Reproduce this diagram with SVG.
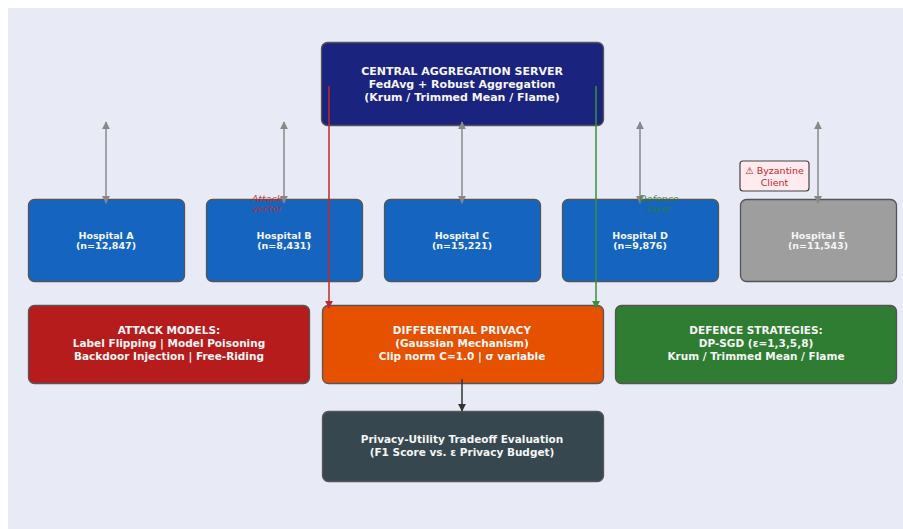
<svg xmlns="http://www.w3.org/2000/svg" width="903" height="529" viewBox="0 0 903 529">
<defs>
<style>
.box{stroke:#555;stroke-width:1.3;}
.t{font-family:"DejaVu Sans",sans-serif;font-weight:bold;fill:#f5f5f5;text-anchor:middle;}
.big{font-size:11px;}
.mid{font-size:10.5px;}
.sm{font-size:9.5px;}
.grey{stroke:#888;stroke-width:1.5;fill:none;}
.note{font-family:"DejaVu Sans",sans-serif;font-style:italic;font-size:9.5px;text-anchor:middle;opacity:0.85;}
</style>
<marker id="ag" viewBox="0 0 10 10" refX="9" refY="5" markerWidth="5.5" markerHeight="5.5" orient="auto-start-reverse"><path d="M0,0 L10,5 L0,10 z" fill="#888"/></marker>
<marker id="ar" viewBox="0 0 10 10" refX="9" refY="5" markerWidth="5.5" markerHeight="5.5" orient="auto"><path d="M0,0 L10,5 L0,10 z" fill="#c62828"/></marker>
<marker id="agr" viewBox="0 0 10 10" refX="9" refY="5" markerWidth="5.5" markerHeight="5.5" orient="auto"><path d="M0,0 L10,5 L0,10 z" fill="#388e3c"/></marker>
<marker id="ak" viewBox="0 0 10 10" refX="9" refY="5" markerWidth="5.5" markerHeight="5.5" orient="auto"><path d="M0,0 L10,5 L0,10 z" fill="#333"/></marker>
</defs>
<rect x="8" y="8" width="895" height="521" fill="#e8eaf6"/>

<g id="server">
<rect class="box" x="321.5" y="42.5" width="282" height="83" rx="6" fill="#1a237e"/>
<text class="t big" x="462" y="74.5">CENTRAL AGGREGATION SERVER</text>
<text class="t big" x="462" y="87.5">FedAvg + Robust Aggregation</text>
<text class="t big" x="462" y="100.5">(Krum / Trimmed Mean / Flame)</text>
</g>

<g id="hospital-a">
<rect class="box" x="28.5" y="199.5" width="156" height="82" rx="6" fill="#1565c0"/>
<text class="t sm" x="106" y="238.5">Hospital A</text>
<text class="t sm" x="106" y="248.5">(n=12,847)</text>
</g>
<g id="hospital-b">
<rect class="box" x="206.5" y="199.5" width="156" height="82" rx="6" fill="#1565c0"/>
<text class="t sm" x="284" y="238.5">Hospital B</text>
<text class="t sm" x="284" y="248.5">(n=8,431)</text>
</g>
<g id="hospital-c">
<rect class="box" x="384.5" y="199.5" width="156" height="82" rx="6" fill="#1565c0"/>
<text class="t sm" x="462" y="238.5">Hospital C</text>
<text class="t sm" x="462" y="248.5">(n=15,221)</text>
</g>
<g id="hospital-d">
<rect class="box" x="562.5" y="199.5" width="156" height="82" rx="6" fill="#1565c0"/>
<text class="t sm" x="640" y="238.5">Hospital D</text>
<text class="t sm" x="640" y="248.5">(n=9,876)</text>
</g>
<g id="hospital-e">
<rect class="box" x="740.5" y="199.5" width="156" height="82" rx="6" fill="#9e9e9e"/>
<text class="t sm" x="818" y="238.5">Hospital E</text>
<text class="t sm" x="818" y="248.5">(n=11,543)</text>
</g>

<g id="byzantine-label">
<rect x="740" y="161" width="69" height="30" rx="3" fill="#ffebee" stroke="#444" stroke-width="1.2"/>
<text x="774.5" y="173.5" font-family="'DejaVu Sans',sans-serif" font-size="9.5" fill="#c62828" text-anchor="middle">⚠ Byzantine</text>
<text x="774.5" y="185.5" font-family="'DejaVu Sans',sans-serif" font-size="9.5" fill="#c62828" text-anchor="middle">Client</text>
</g>

<g id="attack-models">
<rect class="box" x="28.5" y="305.5" width="281" height="78" rx="6" fill="#b71c1c"/>
<text class="t mid" x="169" y="334">ATTACK MODELS:</text>
<text class="t mid" x="169" y="347">Label Flipping | Model Poisoning</text>
<text class="t mid" x="169" y="360">Backdoor Injection | Free-Riding</text>
</g>
<g id="differential-privacy">
<rect class="box" x="322.5" y="305.5" width="281" height="78" rx="6" fill="#e65100"/>
<text class="t mid" x="462" y="334">DIFFERENTIAL PRIVACY</text>
<text class="t mid" x="462" y="347">(Gaussian Mechanism)</text>
<text class="t mid" x="462" y="360">Clip norm C=1.0 | σ variable</text>
</g>
<g id="defence-strategies">
<rect class="box" x="615.5" y="305.5" width="281" height="78" rx="6" fill="#2e7d32"/>
<text class="t mid" x="756" y="334">DEFENCE STRATEGIES:</text>
<text class="t mid" x="756" y="347">DP-SGD (ε=1,3,5,8)</text>
<text class="t mid" x="756" y="360">Krum / Trimmed Mean / Flame</text>
</g>
<g id="evaluation">
<rect class="box" x="322.5" y="411.5" width="281" height="70" rx="6" fill="#37474f"/>
<text class="t mid" x="462" y="443">Privacy-Utility Tradeoff Evaluation</text>
<text class="t mid" x="462" y="456">(F1 Score vs. ε Privacy Budget)</text>
</g>

<g id="connectors">
<line class="grey" x1="106" y1="122" x2="106" y2="203" marker-start="url(#ag)" marker-end="url(#ag)"/>
<line class="grey" x1="284" y1="122" x2="284" y2="203" marker-start="url(#ag)" marker-end="url(#ag)"/>
<line class="grey" x1="462" y1="122" x2="462" y2="203" marker-start="url(#ag)" marker-end="url(#ag)"/>
<line class="grey" x1="640" y1="122" x2="640" y2="203" marker-start="url(#ag)" marker-end="url(#ag)"/>
<line class="grey" x1="818" y1="122" x2="818" y2="203" marker-start="url(#ag)" marker-end="url(#ag)"/>
<line x1="329" y1="86" x2="329" y2="308" stroke="#c62828" stroke-width="1.5" marker-end="url(#ar)"/>
<line x1="596" y1="86" x2="596" y2="308" stroke="#388e3c" stroke-width="1.5" marker-end="url(#agr)"/>
<line x1="462" y1="379" x2="462" y2="411" stroke="#333" stroke-width="1.5" marker-end="url(#ak)"/>
<text class="note" x="267" y="202" fill="#c62828">Attack</text>
<text class="note" x="267" y="212" fill="#c62828">vector</text>
<text class="note" x="659" y="202" fill="#2e7d32">Defence</text>
<text class="note" x="659" y="212" fill="#2e7d32">layer</text>
</g>
</svg>
